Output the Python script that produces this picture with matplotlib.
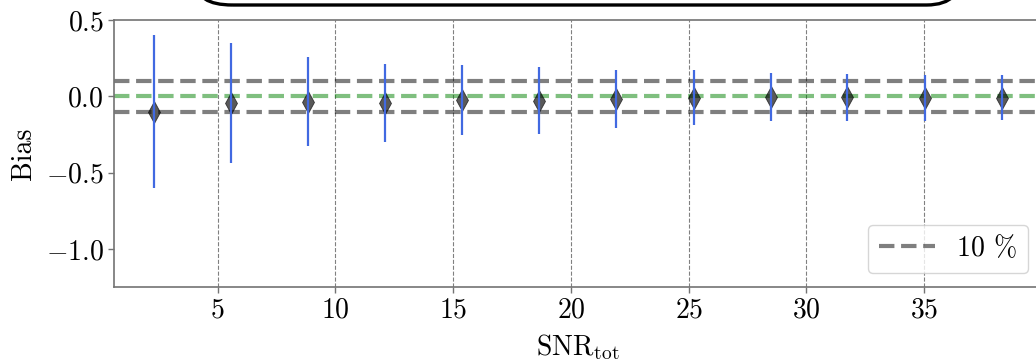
import matplotlib
matplotlib.use("Agg")
import matplotlib.pyplot as plt
from matplotlib.patches import FancyBboxPatch

plt.rcParams["font.family"] = "serif"
plt.rcParams["font.serif"] = ["cmr10"]
plt.rcParams["mathtext.fontset"] = "cm"
plt.rcParams["axes.formatter.use_mathtext"] = True
plt.rcParams["axes.unicode_minus"] = True

# Binned total SNR and the bias measured in each bin
snr_tot = [2.29, 5.55, 8.85, 12.1, 15.37, 18.66, 21.92, 25.22, 28.48, 31.74, 35.03, 38.3]
bias = [-0.10, -0.044, -0.035, -0.044, -0.025, -0.03, -0.016, -0.01, -0.003, -0.007, -0.01, -0.01]
bias_err = [0.50, 0.39, 0.29, 0.255, 0.23, 0.22, 0.19, 0.18, 0.157, 0.155, 0.152, 0.148]
tolerance = 0.1
x_ticks = [5, 10, 15, 20, 25, 30, 35]
y_ticks = [0.5, 0.0, -0.5, -1.0]

W, H = 1036, 363
fig = plt.figure(figsize=(W / 100, H / 100), dpi=100)
ax = fig.add_axes([114 / W, 76 / H, (1042 - 114) / W, (287 - 20) / H])

ax.axhline(tolerance, color="k", alpha=0.5, lw=3, ls="--", label="10 %", zorder=1)
ax.axhline(-tolerance, color="k", alpha=0.5, lw=3, ls="--", zorder=1)
ax.axhline(0.0, color="green", alpha=0.5, lw=3, ls="--", zorder=1)

ax.plot(snr_tot, bias, ls="none", marker="d", ms=11, mew=0.6, color="k",
        alpha=0.65, zorder=3)
ax.errorbar(snr_tot, bias, yerr=bias_err, fmt="none", ecolor="royalblue",
            elinewidth=1.6, capsize=0, zorder=4)

ax.set_xlim(0.6, 40.0)
ax.set_ylim(-1.25, 0.5)
ax.set_xticks(x_ticks)
ax.set_yticks(y_ticks)
ax.xaxis.grid(True, ls="--", lw=0.8, color="0.5")
ax.set_axisbelow(True)

for s in ax.spines.values():
    s.set_color("0.45")
    s.set_linewidth(1.2)
ax.tick_params(axis="both", labelsize=20, color="0.45", length=4, width=1)

ax.set_xlabel(r"$\mathrm{SNR}_{\mathrm{tot}}$", fontsize=20, labelpad=6)
ax.set_ylabel("Bias", fontsize=20, labelpad=6)

ax.legend(loc="lower right", fontsize=20, handlelength=2.0, framealpha=0.8)

# Frame of the panel above, cut off at the figure edge
box = FancyBboxPatch((196 / W, 1 - 5 / H), (963 - 196) / W, 60 / H,
                     boxstyle="round,pad=0,rounding_size=0.035",
                     transform=fig.transFigure, fc="none", ec="k", lw=2.4,
                     clip_on=False, mutation_aspect=W / H)
fig.patches.append(box)

fig.savefig("out.png", dpi=100)
